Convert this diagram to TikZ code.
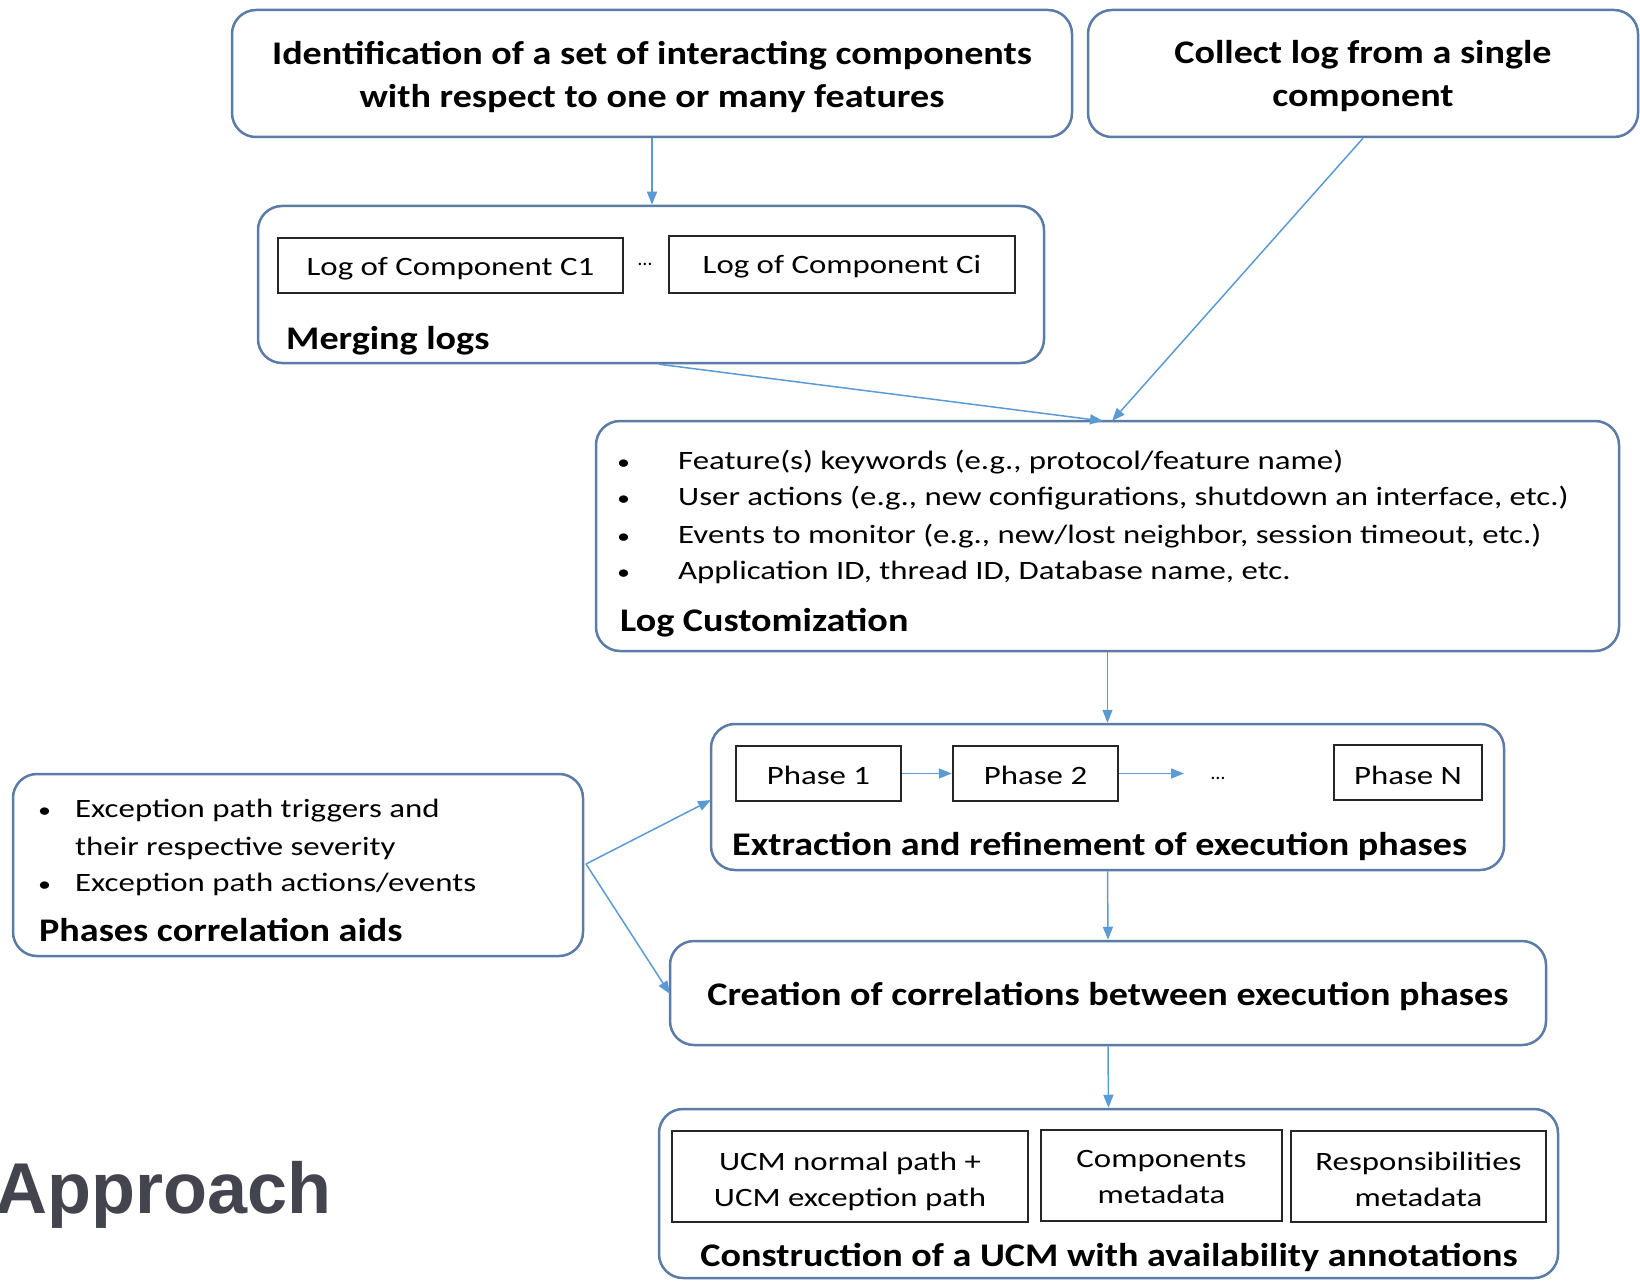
\documentclass[tikz,border=0pt]{standalone}
\usepackage{fontspec}
\setmainfont{Carlito}
\newfontfamily\bodyfont{Carlito}[FakeStretch=1.24]
\newfontfamily\titlefont{Carlito}[FakeStretch=1.155]
\newfontfamily\slidefont{Liberation Sans}
\usetikzlibrary{arrows.meta}
\definecolor{frameblue}{HTML}{5B7CA6}
\definecolor{arrowblue}{HTML}{5B9BD5}
\definecolor{titlegray}{HTML}{44444F}
\newcommand{\dotmark}{{\fontsize{21}{21}\selectfont\textbullet}}
% lower a label inside its frame without changing the frame's size
\newcommand{\lowered}[2]{\raisebox{#1}[\height][\depth]{#2}}
\newcommand{\twolines}[3][-5pt]{\lowered{#1}{\begin{tabular}{@{}c@{}}#2\\#3\end{tabular}}}
\tikzset{
  stage/.style={draw=frameblue, line width=2.5pt, rounded corners=24pt, inner sep=0pt},
  item/.style={draw=black!85, line width=2.5pt, inner sep=0pt, align=center,
    font=\bodyfont\fontsize{26.5}{36}\selectfont},
  link/.style={draw=arrowblue, line width=1.5pt, -{Triangle[length=13pt,width=10pt]}},
  head/.style={font=\titlefont\bfseries\fontsize{33}{43}\selectfont, align=center, inner sep=0pt},
  caption/.style={font=\titlefont\bfseries\fontsize{33}{40}\selectfont, anchor=west, inner sep=0pt},
  listline/.style={font=\bodyfont\fontsize{26.5}{34}\selectfont, anchor=west, inner sep=0pt},
  dots/.style={font=\fontsize{20}{24}\selectfont, inner sep=0pt}
}
\begin{document}
\begin{tikzpicture}[x=1pt,y=-1pt]
\useasboundingbox (0,0) rectangle (1640,1281);
\clip (0,0) rectangle (1640,1281);

% top row
\node[stage, minimum width=840pt, minimum height=127pt] (ident) at (652,73.5) {};
\node[head, yshift=-3pt] at (ident) {Identification of a set of interacting components\\with respect to one or many features};
\node[stage, minimum width=550pt, minimum height=127pt] (collect) at (1363,73.5) {};
\node[head, yshift=-3pt] at (collect) {Collect log from a single\\component};

% merging logs
\node[stage, minimum width=786pt, minimum height=157pt] (merge) at (651,284.5) {};
\node[item, minimum width=345pt, minimum height=55pt] (c1) at (450.5,265.5) {\lowered{-3pt}{Log of Component C1}};
\node[item, minimum width=346pt, minimum height=57pt] (ci) at (842,264.5) {\lowered{-2pt}{Log of Component Ci}};
\node[dots] (mdots) at (645,264) {\dots};
\node[caption] (mcap) at (286,341) {Merging logs};

% log customization
\node[stage, minimum width=1023pt, minimum height=230pt] (custom) at (1107.5,536) {};
\node[listline] (l1) at (617,462) {\makebox[61pt][l]{\dotmark}Feature(s) keywords (e.g., protocol/feature name)};
\node[listline] (l2) at (617,498) {\makebox[61pt][l]{\dotmark}User actions (e.g., new configurations, shutdown an interface, etc.)};
\node[listline] (l3) at (617,536) {\makebox[61pt][l]{\dotmark}Events to monitor (e.g., new/lost neighbor, session timeout, etc.)};
\node[listline] (l4) at (617,572) {\makebox[61pt][l]{\dotmark}Application ID, thread ID, Database name, etc.};
\node[caption] (ccap) at (620,623) {Log Customization};

% extraction of phases
\node[stage, minimum width=793pt, minimum height=146pt] (extract) at (1107.5,797) {};
\node[item, minimum width=165pt, minimum height=55pt] (p1) at (818.5,773.5) {\lowered{-2pt}{Phase 1}};
\node[item, minimum width=165pt, minimum height=55pt] (p2) at (1035.5,773.5) {\lowered{-2pt}{Phase 2}};
\node[dots] (pdots) at (1218,778) {\dots};
\node[item, minimum width=148pt, minimum height=55pt] (pn) at (1408,772.5) {\lowered{-3pt}{Phase N}};
\coordinate (pnext) at (1184,773.5);
\node[caption] (ecap) at (732,846) {Extraction and refinement of execution phases};

% correlation aids
\node[stage, minimum width=570pt, minimum height=182pt] (aids) at (298,865) {};
\node[listline] (a1) at (38,811) {\makebox[37pt][l]{\dotmark}Exception path triggers and};
\node[listline] (a2) at (75,848) {their respective severity};
\node[listline] (a3) at (38,884) {\makebox[37pt][l]{\dotmark}Exception path actions/events};
\node[caption] (acap) at (39,930) {Phases correlation aids};

% correlations
\node[stage, minimum width=876pt, minimum height=104pt] (correl) at (1108,993) {};
\node[head, yshift=-3pt] at (correl) {Creation of correlations between execution phases};

% UCM construction
\node[stage, minimum width=899pt, minimum height=169pt] (ucm) at (1108.5,1193.5) {};
\node[item, minimum width=356pt, minimum height=91pt] (u1) at (850,1176.5) {\twolines{UCM normal path +}{UCM exception path}};
\node[item, minimum width=241pt, minimum height=91pt] (u2) at (1161.5,1175.5) {\twolines[-3pt]{Components}{metadata}};
\node[item, minimum width=255pt, minimum height=91pt] (u3) at (1418.5,1176.5) {\twolines{Responsibilities}{metadata}};
\node[head, anchor=center] (ucap) at (1109,1257) {Construction of a UCM with availability annotations};

% slide heading
\node[font=\slidefont\bfseries\fontsize{72}{80}\selectfont, text=titlegray, anchor=base west, inner sep=0pt] (approach) at (-5,1213) {Approach};

% connectors
\draw[link] (ident.south) -- (merge.north -| ident.south);
\draw[link] (merge.south) ++(8,0) coordinate (mfoot) (mfoot) -- (1103,421);
\draw[link] (collect.south) -- (1112,421);
\draw[link] (custom.south) -- (extract.north);
\draw[link] (extract.south) -- (correl.north);
\draw[link] (correl.south) -- (ucm.north);
\draw[link] (p1.east) -- (p2.west);
\draw[link] (p2.east) -- (pnext);
\coordinate (aidsout) at (586,864);
\draw[link] (aidsout) -- (711,800);
\draw[link] (aidsout) -- (670,994);
\end{tikzpicture}
\end{document}
